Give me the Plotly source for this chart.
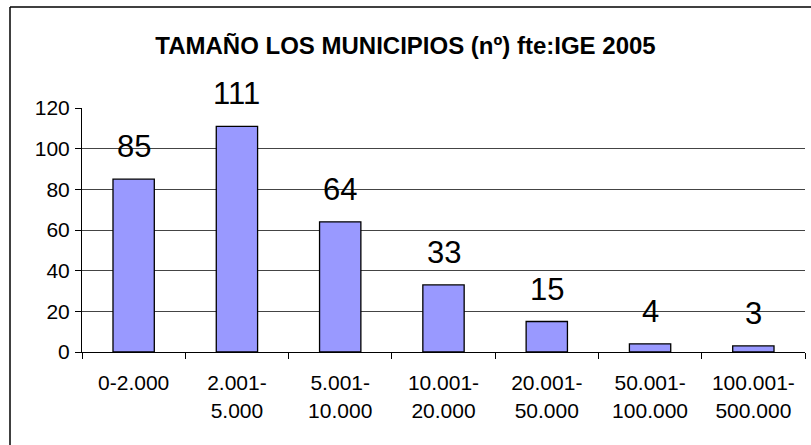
import plotly.graph_objects as go

categories = ["0-2.000", "2.001-<br>5.000", "5.001-<br>10.000", "10.001-<br>20.000",
              "20.001-<br>50.000", "50.001-<br>100.000", "100.001-<br>500.000"]
values = [85, 111, 64, 33, 15, 4, 3]
y_ticks = [0, 20, 40, 60, 80, 100, 120]
title_text = "TAMAÑO LOS MUNICIPIOS (nº) fte:IGE 2005"

FONT = "Liberation Sans, Arial, sans-serif"

# plot-area geometry in pixels
L, R, T, B = 82, 805, 108, 352
W, H = 811, 445
pw, ph = R - L, B - T

fig = go.Figure()
fig.add_trace(go.Bar(
    x=categories, y=values, width=0.4,
    marker=dict(color="#9999FF", line=dict(color="#000000", width=1.3)),
    hoverinfo="skip",
))

for c, v in zip(categories, values):
    fig.add_annotation(x=c, y=v, text=str(v), showarrow=False, yanchor="bottom",
                       yshift=13, font=dict(family=FONT, size=31, color="#000000"))

def px_x(p):
    return (p - L) / pw

def px_y(p):
    return (B - p) / ph

# outer chart border (left and top edges visible, rest cropped)
fig.add_shape(type="line", xref="paper", yref="paper",
              x0=px_x(10), x1=px_x(10), y0=px_y(W + 200), y1=px_y(7),
              line=dict(color="#000000", width=1.5))
fig.add_shape(type="line", xref="paper", yref="paper",
              x0=px_x(10), x1=px_x(W + 200), y0=px_y(7), y1=px_y(7),
              line=dict(color="#000000", width=1.5))

fig.update_layout(
    width=W, height=H,
    margin=dict(l=L, r=W - R, t=T, b=H - B, pad=0),
    paper_bgcolor="#FFFFFF", plot_bgcolor="#FFFFFF",
    showlegend=False,
    font=dict(family=FONT, color="#000000"),
    title=dict(text="<b>" + title_text + "</b>", x=405.5 / W, xanchor="center",
               y=1 - 46 / H, yanchor="middle", yref="container",
               font=dict(family=FONT, size=24, color="#000000")),
    bargap=0.6,
)
fig.update_xaxes(
    type="category", tickson="boundaries", ticks="outside", ticklen=6,
    tickcolor="#000000", showline=True, linecolor="#000000", linewidth=1,
    showgrid=False, tickfont=dict(family=FONT, size=21, color="#000000"),
    ticklabelstandoff=12,
)
fig.update_yaxes(
    range=[0, 120], tickvals=y_ticks, ticks="outside", ticklen=6,
    tickcolor="#000000", showline=True, linecolor="#000000", linewidth=1,
    showgrid=True, gridcolor="#444444", gridwidth=1.3, zeroline=False,
    tickfont=dict(family=FONT, size=21, color="#000000"), ticklabelstandoff=1,
)

fig.write_html("out.html", config={"displayModeBar": False},
               post_script="document.body.style.margin='0';")
